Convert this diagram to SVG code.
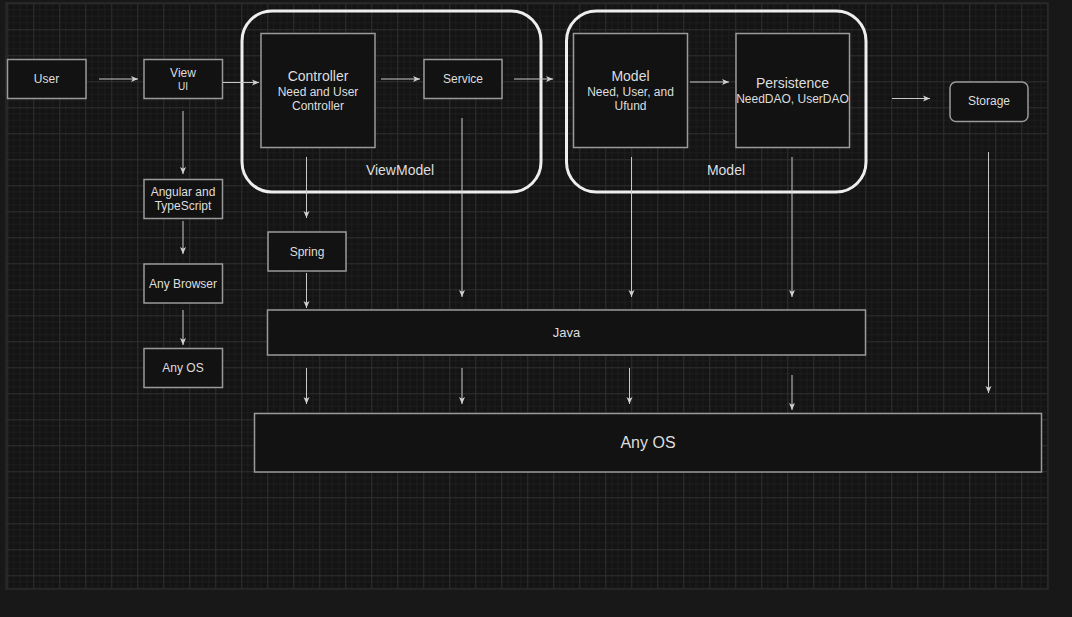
<svg xmlns="http://www.w3.org/2000/svg" width="1072" height="617" viewBox="0 0 1072 617">
<defs>
<pattern id="grid" patternUnits="userSpaceOnUse" x="7.3" y="3.3" width="26" height="26">
<rect width="26" height="26" fill="#141414"/>
<path d="M6.5,0V26M13,0V26M19.5,0V26M0,6.5H26M0,13H26M0,19.5H26" stroke="#1d1d1d" stroke-width="1" fill="none"/>
<path d="M0.5,0V26M0,0.5H26" stroke="#303030" stroke-width="1" fill="none"/>
</pattern>
<marker id="arr" markerUnits="userSpaceOnUse" markerWidth="8" markerHeight="8" refX="7" refY="4" orient="auto">
<path d="M0,1 L7,4 L0,7 L1.8,4 z" fill="#d0d0d0"/>
</marker>
</defs>
<style>
.n{fill:#121212;stroke:#9a9a9a;stroke-width:1.5}
.c{fill:none;stroke:#eeeeee;stroke-width:3}
.t{font-family:"Liberation Sans",Arial,sans-serif;fill:#dedede;text-anchor:middle}
.s12{font-size:12px}
.s14{font-size:14px}
.s10{font-size:10px}
.e{stroke:#c8c8c8;stroke-width:1;fill:none;marker-end:url(#arr)}
</style>
<rect width="1072" height="617" fill="#181818"/>
<rect x="6" y="3" width="1042" height="586" fill="url(#grid)" stroke="#2a2a2a" stroke-width="1.5"/>

<g id="viewmodel-container">
<rect class="c" x="242" y="11" width="299" height="181" rx="30"/>
<text class="t s14" x="400" y="175">ViewModel</text>
</g>
<g id="model-container">
<rect class="c" x="566.5" y="11" width="299.5" height="181" rx="30"/>
<text class="t s14" x="726" y="175">Model</text>
</g>

<g id="user"><rect class="n" x="7.5" y="59.5" width="78.5" height="39"/><text class="t s12" x="46.5" y="83">User</text></g>
<g id="view"><rect class="n" x="144" y="59.5" width="78.5" height="39"/><text class="t s12" x="183" y="77">View</text><text class="t s10" x="183" y="90">UI</text></g>
<g id="angular"><rect class="n" x="144" y="179.5" width="78.5" height="39"/><text class="t s12" x="183" y="196">Angular and</text><text class="t s12" x="183" y="210">TypeScript</text></g>
<g id="browser"><rect class="n" x="144" y="264" width="78.5" height="39"/><text class="t s12" x="183" y="287.5">Any Browser</text></g>
<g id="os-small"><rect class="n" x="144" y="348.5" width="78.5" height="39"/><text class="t s12" x="183" y="372">Any OS</text></g>
<g id="controller"><rect class="n" x="261" y="33.5" width="114" height="114"/><text class="t s14" x="318" y="81">Controller</text><text class="t s12" x="318" y="96">Need and User</text><text class="t s12" x="318" y="110">Controller</text></g>
<g id="service"><rect class="n" x="424" y="59.5" width="78" height="39"/><text class="t s12" x="463" y="83">Service</text></g>
<g id="model"><rect class="n" x="573.5" y="33.5" width="114" height="114"/><text class="t s14" x="630.5" y="81">Model</text><text class="t s12" x="630.5" y="96">Need, User, and</text><text class="t s12" x="630.5" y="110">Ufund</text></g>
<g id="persistence"><rect class="n" x="736" y="33.5" width="113.5" height="114"/><text class="t s14" x="792.5" y="88">Persistence</text><text class="t s12" x="792.5" y="103">NeedDAO, UserDAO</text></g>
<g id="storage"><rect class="n" x="950" y="82" width="78" height="39.5" rx="6"/><text class="t s12" x="989" y="105">Storage</text></g>
<g id="spring"><rect class="n" x="268" y="232" width="78" height="39"/><text class="t s12" x="307" y="255.5">Spring</text></g>
<g id="java"><rect class="n" x="267.5" y="310" width="598" height="45"/><text class="t" style="font-size:13px" x="566.5" y="337">Java</text></g>
<g id="os-big"><rect class="n" x="254.5" y="413.5" width="787" height="58.5"/><text class="t" style="font-size:16px" x="648" y="448">Any OS</text></g>

<g id="connectors">
<path class="e" d="M99,79H138"/>
<path class="e" d="M223,82.5H259"/>
<path class="e" d="M381,79H420"/>
<path class="e" d="M514,79H553"/>
<path class="e" d="M690,82H729"/>
<path class="e" d="M892,98.5H930"/>
<path class="e" d="M183,111V174"/>
<path class="e" d="M183,221V254"/>
<path class="e" d="M183,310V345"/>
<path class="e" d="M306.5,157V218"/>
<path class="e" d="M306.5,273V308"/>
<path class="e" d="M462,118V297"/>
<path class="e" d="M631.5,157V297"/>
<path class="e" d="M792,157V297"/>
<path class="e" d="M988.5,152V393"/>
<path class="e" d="M306.5,368V404"/>
<path class="e" d="M462,368V404"/>
<path class="e" d="M629.5,368V404"/>
<path class="e" d="M792,375V410"/>
</g>
</svg>
